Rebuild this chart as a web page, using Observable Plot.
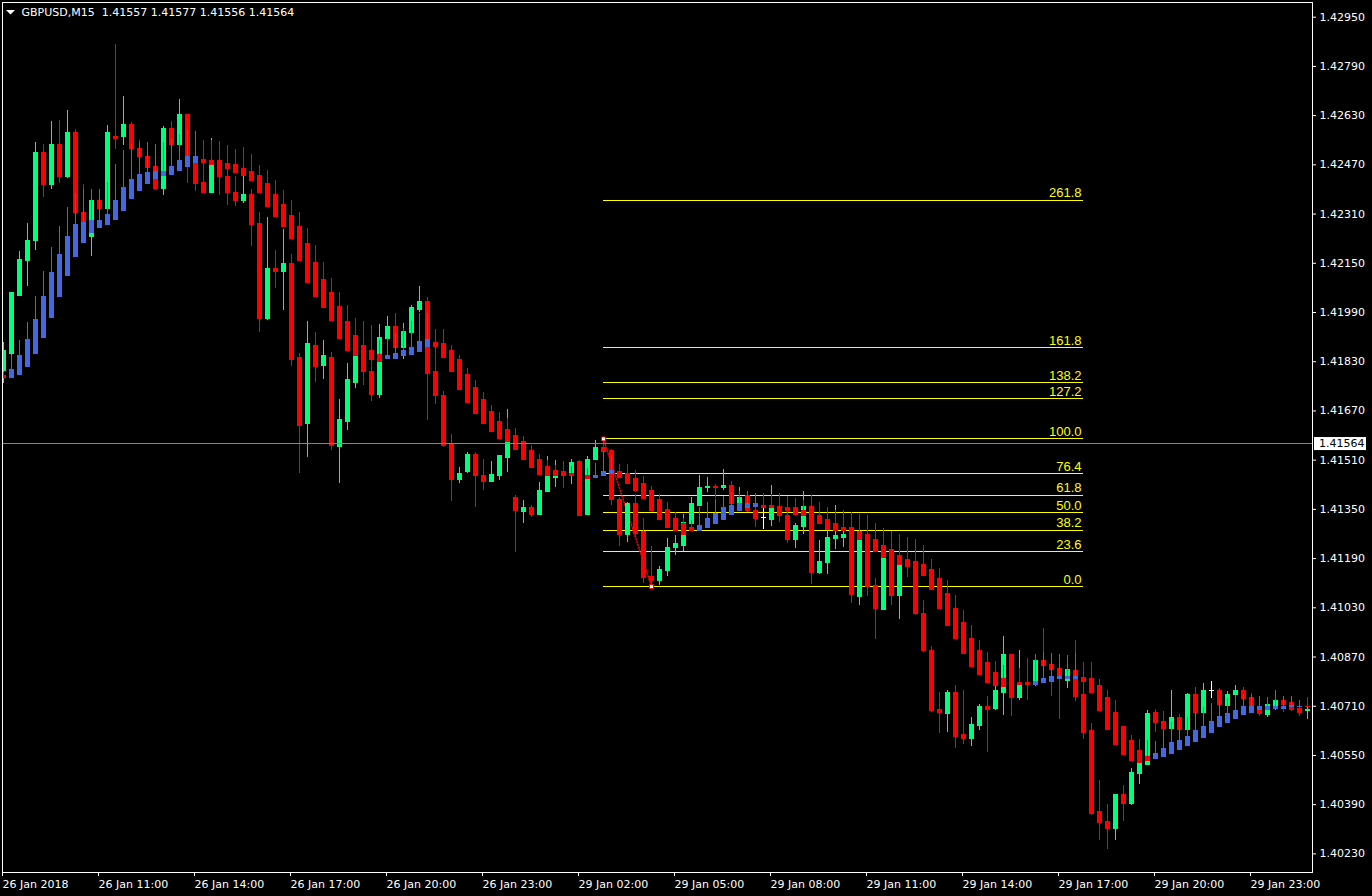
<!DOCTYPE html>
<html><head><meta charset="utf-8">
<script src="https://cdn.jsdelivr.net/npm/d3@7"></script>
<script src="https://cdn.jsdelivr.net/npm/@observablehq/plot@0.6"></script>
<style>
html,body{margin:0;padding:0;background:#000;overflow:hidden;}
#chart svg{display:block;}
</style></head><body><div id="chart"></div>
<script>
// ---- data (GBPUSD M15, 26 Jan 2018 08:00 .. 30 Jan 00:45, one entry per bar) ----
const open = [
1.41801,1.41856,1.42045,1.42159,1.42221,1.42507,1.42406,1.42533,1.42429,1.42575,
1.42315,1.42237,1.42351,1.42325,1.42562,1.42559,1.42601,1.42523,1.42497,1.42464,
1.42390,1.42588,1.42533,1.42633,1.42474,1.42412,1.42380,1.42481,1.42429,1.42380,
1.42351,1.42373,1.42279,1.41970,1.42133,1.42123,1.42149,1.41843,1.41626,1.41882,
1.41817,1.41843,1.41554,1.41635,1.41762,1.41882,1.41798,1.41723,1.41905,1.41944,
1.41876,1.41925,1.41999,1.42025,1.41795,1.41720,1.41561,1.41447,1.41470,1.41528,
1.41457,1.41440,1.41460,1.41518,1.41388,1.41343,1.41356,1.41333,1.41408,1.41453,
1.41473,1.41463,1.41505,1.41333,1.41512,1.41551,1.41541,1.41379,1.41268,1.41369,
1.41275,1.41131,1.41118,1.41151,1.41223,1.41232,1.41304,1.41362,1.41418,1.41424,
1.41418,1.41427,1.41369,1.41395,1.41346,1.41323,1.41317,1.41359,1.41330,1.41252,
1.41294,1.41359,1.41144,1.41177,1.41255,1.41258,1.41288,1.41066,1.41265,1.41102,
1.41024,1.41213,1.41070,1.41183,1.41180,1.41011,1.40891,1.40699,1.40686,1.40754,
1.40615,1.40605,1.40647,1.40709,1.40702,1.40754,1.40875,1.40738,1.40787,1.40780,
1.40858,1.40845,1.40832,1.40793,1.40826,1.40748,1.40628,1.40367,1.40335,1.40312,
1.40420,1.40393,1.40491,1.40520,1.40689,1.40660,1.40637,1.40673,1.40634,1.40748,
1.40689,1.40758,1.40761,1.40712,1.40745,1.40758,1.40738,1.40699,1.40683,1.40702,
1.40728,1.40719,1.40702,1.40693];
const high = [
1.41892,1.42055,1.42188,1.42279,1.42542,1.42536,1.42611,1.42614,1.42646,1.42585,
1.42406,1.42390,1.42386,1.42598,1.42861,1.42692,1.42607,1.42549,1.42516,1.42500,
1.42594,1.42611,1.42682,1.42633,1.42516,1.42536,1.42555,1.42546,1.42533,1.42432,
1.42526,1.42390,1.42315,1.42299,1.42191,1.42260,1.42178,1.41856,1.41960,1.41925,
1.41899,1.41860,1.41707,1.41824,1.41970,1.41960,1.41947,1.41951,1.41977,1.41986,
1.41954,1.42012,1.42074,1.42039,1.41934,1.41733,1.41593,1.41486,1.41535,1.41535,
1.41512,1.41505,1.41525,1.41674,1.41395,1.41379,1.41362,1.41437,1.41522,1.41509,
1.41505,1.41512,1.41509,1.41522,1.41574,1.41579,1.41544,1.41388,1.41372,1.41398,
1.41320,1.41229,1.41164,1.41255,1.41265,1.41333,1.41388,1.41460,1.41453,1.41431,
1.41479,1.41440,1.41421,1.41408,1.41392,1.41359,1.41427,1.41401,1.41353,1.41304,
1.41408,1.41395,1.41249,1.41284,1.41362,1.41297,1.41340,1.41252,1.41330,1.41125,
1.41209,1.41229,1.41200,1.41249,1.41252,1.41053,1.40904,1.40754,1.40761,1.40777,
1.40761,1.40673,1.40715,1.40741,1.40810,1.40936,1.40878,1.40891,1.40865,1.40878,
1.40962,1.40871,1.40878,1.40875,1.40923,1.40793,1.40654,1.40468,1.40390,1.40423,
1.40452,1.40507,1.40602,1.40696,1.40699,1.40693,1.40761,1.40683,1.40751,1.40771,
1.40784,1.40790,1.40767,1.40758,1.40777,1.40771,1.40751,1.40741,1.40738,1.40761,
1.40741,1.40741,1.40728,1.40738];
const low = [
1.41759,1.41850,1.42042,1.42074,1.42191,1.42364,1.42390,1.42409,1.42425,1.42305,
1.42273,1.42172,1.42315,1.42315,1.42520,1.42533,1.42510,1.42484,1.42435,1.42386,
1.42370,1.42523,1.42516,1.42409,1.42383,1.42377,1.42377,1.42370,1.42338,1.42334,
1.42344,1.42204,1.41925,1.41964,1.42068,1.41996,1.41814,1.41466,1.41518,1.41762,
1.41772,1.41541,1.41434,1.41606,1.41743,1.41752,1.41700,1.41710,1.41856,1.41866,
1.41837,1.41918,1.41990,1.41639,1.41691,1.41551,1.41375,1.41434,1.41466,1.41356,
1.41411,1.41437,1.41444,1.41470,1.41209,1.41304,1.41323,1.41330,1.41405,1.41421,
1.41418,1.41431,1.41327,1.41330,1.41509,1.41525,1.41362,1.41229,1.41242,1.41258,
1.41109,1.41099,1.41102,1.41131,1.41200,1.41213,1.41301,1.41359,1.41405,1.41385,
1.41411,1.41362,1.41362,1.41340,1.41291,1.41284,1.41294,1.41307,1.41239,1.41223,
1.41268,1.41105,1.41138,1.41138,1.41219,1.41226,1.41044,1.41037,1.41066,1.40927,
1.41021,1.41037,1.40992,1.41128,1.41005,1.40884,1.40689,1.40621,1.40624,1.40572,
1.40585,1.40579,1.40631,1.40559,1.40696,1.40680,1.40676,1.40728,1.40728,1.40774,
1.40793,1.40741,1.40667,1.40767,1.40725,1.40602,1.40354,1.40273,1.40244,1.40273,
1.40335,1.40387,1.40455,1.40517,1.40624,1.40631,1.40631,1.40628,1.40628,1.40683,
1.40683,1.40735,1.40709,1.40706,1.40728,1.40728,1.40702,1.40676,1.40673,1.40696,
1.40689,1.40693,1.40676,1.40667];
const close = [
1.41866,1.42052,1.42162,1.42224,1.42507,1.42403,1.42533,1.42429,1.42572,1.42312,
1.42282,1.42351,1.42325,1.42572,1.42555,1.42601,1.42520,1.42494,1.42461,1.42390,
1.42588,1.42533,1.42633,1.42490,1.42409,1.42380,1.42471,1.42432,1.42377,1.42354,
1.42373,1.42276,1.41970,1.42133,1.42123,1.42149,1.41837,1.41622,1.41886,1.41814,
1.41847,1.41557,1.41639,1.41769,1.41850,1.41795,1.41723,1.41908,1.41944,1.41876,
1.41928,1.42006,1.42025,1.41791,1.41717,1.41557,1.41447,1.41466,1.41528,1.41457,
1.41440,1.41463,1.41522,1.41570,1.41346,1.41356,1.41333,1.41411,1.41457,1.41476,
1.41457,1.41502,1.41330,1.41512,1.41551,1.41538,1.41379,1.41268,1.41366,1.41271,
1.41128,1.41118,1.41154,1.41226,1.41236,1.41307,1.41366,1.41421,1.41424,1.41421,
1.41427,1.41369,1.41388,1.41346,1.41320,1.41323,1.41353,1.41327,1.41252,1.41297,
1.41359,1.41144,1.41180,1.41258,1.41265,1.41268,1.41073,1.41249,1.41099,1.41027,
1.41193,1.41070,1.41170,1.41164,1.41011,1.40888,1.40696,1.40689,1.40754,1.40611,
1.40605,1.40650,1.40709,1.40699,1.40758,1.40875,1.40738,1.40787,1.40780,1.40858,
1.40842,1.40829,1.40797,1.40829,1.40741,1.40624,1.40361,1.40332,1.40312,1.40423,
1.40393,1.40494,1.40524,1.40686,1.40657,1.40637,1.40673,1.40634,1.40748,1.40689,
1.40761,1.40758,1.40715,1.40748,1.40758,1.40735,1.40709,1.40686,1.40715,1.40728,
1.40715,1.40699,1.40689,1.40699];
// smoothed Heiken Ashi overlay
const haOpen = [
1.41785,1.41778,1.41788,1.41814,1.41856,1.41908,1.41973,1.42042,1.42110,1.42169,
1.42217,1.42250,1.42266,1.42276,1.42292,1.42321,1.42360,1.42386,1.42409,1.42425,
1.42435,1.42438,1.42451,1.42464,1.42477,1.42487,1.42484,1.42474,1.42474,1.42468,
1.42458,1.42448,1.42435,1.42409,1.42373,1.42338,1.42305,1.42269,1.42214,1.42152,
1.42097,1.42055,1.42009,1.41960,1.41915,1.41879,1.41866,1.41853,1.41840,1.41840,
1.41847,1.41853,1.41863,1.41879,1.41892,1.41886,1.41866,1.41834,1.41788,1.41743,
1.41704,1.41668,1.41635,1.41609,1.41590,1.41570,1.41541,1.41512,1.41489,1.41476,
1.41470,1.41466,1.41463,1.41460,1.41453,1.41457,1.41466,1.41470,1.41466,1.41450,
1.41431,1.41411,1.41382,1.41349,1.41320,1.41301,1.41288,1.41281,1.41288,1.41301,
1.41317,1.41333,1.41346,1.41353,1.41359,1.41362,1.41362,1.41359,1.41356,1.41353,
1.41346,1.41336,1.41330,1.41317,1.41304,1.41291,1.41288,1.41278,1.41268,1.41252,
1.41232,1.41219,1.41200,1.41187,1.41177,1.41170,1.41154,1.41125,1.41076,1.41027,
1.40979,1.40930,1.40888,1.40849,1.40819,1.40800,1.40790,1.40787,1.40787,1.40780,
1.40784,1.40790,1.40797,1.40800,1.40800,1.40803,1.40800,1.40777,1.40738,1.40689,
1.40641,1.40598,1.40566,1.40546,1.40540,1.40546,1.40556,1.40569,1.40582,1.40595,
1.40608,1.40624,1.40641,1.40657,1.40670,1.40680,1.40689,1.40699,1.40699,1.40702,
1.40702,1.40706,1.40706,1.40709];
const haClose = [
1.41778,1.41804,1.41847,1.41899,1.41967,1.42042,1.42117,1.42178,1.42234,1.42273,
1.42282,1.42289,1.42289,1.42308,1.42354,1.42396,1.42422,1.42438,1.42445,1.42448,
1.42448,1.42464,1.42484,1.42497,1.42494,1.42477,1.42471,1.42458,1.42458,1.42445,
1.42435,1.42419,1.42380,1.42334,1.42299,1.42269,1.42230,1.42159,1.42087,1.42042,
1.42006,1.41964,1.41905,1.41866,1.41850,1.41840,1.41837,1.41830,1.41847,1.41856,
1.41866,1.41876,1.41895,1.41899,1.41879,1.41843,1.41795,1.41739,1.41697,1.41661,
1.41626,1.41600,1.41580,1.41570,1.41544,1.41512,1.41483,1.41463,1.41457,1.41457,
1.41457,1.41460,1.41450,1.41450,1.41460,1.41473,1.41476,1.41453,1.41431,1.41411,
1.41385,1.41346,1.41314,1.41288,1.41281,1.41268,1.41281,1.41297,1.41320,1.41336,
1.41353,1.41362,1.41366,1.41369,1.41366,1.41356,1.41353,1.41346,1.41346,1.41333,
1.41330,1.41314,1.41301,1.41284,1.41281,1.41281,1.41268,1.41249,1.41232,1.41213,
1.41193,1.41183,1.41170,1.41170,1.41151,1.41135,1.41089,1.41027,1.40972,1.40927,
1.40881,1.40839,1.40810,1.40787,1.40777,1.40774,1.40767,1.40780,1.40780,1.40790,
1.40800,1.40806,1.40806,1.40806,1.40806,1.40790,1.40754,1.40696,1.40634,1.40585,
1.40553,1.40533,1.40524,1.40533,1.40556,1.40572,1.40589,1.40598,1.40611,1.40628,
1.40644,1.40660,1.40676,1.40686,1.40696,1.40706,1.40709,1.40706,1.40706,1.40709,
1.40709,1.40712,1.40709,1.40706];
const haHigh = [
1.41795,1.41850,1.41899,1.41957,1.42042,1.42123,1.42201,1.42269,1.42331,1.42377,
1.42390,1.42390,1.42390,1.42412,1.42471,1.42516,1.42536,1.42542,1.42542,1.42536,
1.42542,1.42552,1.42568,1.42581,1.42578,1.42549,1.42549,1.42539,1.42533,1.42520,
1.42526,1.42503,1.42468,1.42451,1.42419,1.42386,1.42354,1.42315,1.42263,1.42208,
1.42152,1.42100,1.42055,1.42012,1.41970,1.41938,1.41915,1.41899,1.41905,1.41921,
1.41938,1.41960,1.41986,1.41986,1.41934,1.41934,1.41882,1.41850,1.41808,1.41769,
1.41730,1.41687,1.41665,1.41645,1.41613,1.41587,1.41557,1.41528,1.41509,1.41492,
1.41489,1.41489,1.41486,1.41483,1.41499,1.41538,1.41525,1.41496,1.41496,1.41476,
1.41457,1.41424,1.41398,1.41372,1.41340,1.41320,1.41314,1.41356,1.41372,1.41382,
1.41392,1.41405,1.41408,1.41408,1.41401,1.41401,1.41398,1.41395,1.41392,1.41385,
1.41379,1.41372,1.41372,1.41356,1.41346,1.41346,1.41340,1.41333,1.41320,1.41304,
1.41288,1.41278,1.41268,1.41258,1.41252,1.41232,1.41187,1.41157,1.41118,1.41070,
1.41021,1.40972,1.40923,1.40884,1.40855,1.40842,1.40832,1.40832,1.40832,1.40878,
1.40884,1.40881,1.40878,1.40875,1.40881,1.40852,1.40852,1.40797,1.40761,1.40728,
1.40644,1.40615,1.40602,1.40598,1.40595,1.40631,1.40657,1.40663,1.40673,1.40689,
1.40706,1.40719,1.40728,1.40735,1.40745,1.40748,1.40745,1.40741,1.40738,1.40761,
1.40741,1.40741,1.40728,1.40738];

const priceTicks = [1.42950,1.42790,1.42630,1.42470,1.42310,1.42150,1.41990,1.41830,1.41670,
  1.41510,1.41350,1.41190,1.41030,1.40870,1.40710,1.40550,1.40390,1.40230];
const timeTickBars = [0,12,24,36,48,60,72,84,96,108,120,132,144,156];
const timeTickLabels = ["26 Jan 2018","26 Jan 11:00","26 Jan 14:00","26 Jan 17:00","26 Jan 20:00",
  "26 Jan 23:00","29 Jan 02:00","29 Jan 05:00","29 Jan 08:00","29 Jan 11:00","29 Jan 14:00",
  "29 Jan 17:00","29 Jan 20:00","29 Jan 23:00"];
const fibLevels = [0, 23.6, 38.2, 50, 61.8, 76.4, 100, 127.2, 138.2, 161.8, 261.8];
const fibHighPrice = 1.41579, fibHighBar = 75;
const fibLowPrice = 1.41099, fibLowBar = 81;
const fibEndBar = 135;
const symbolTitle = "GBPUSD,M15";
const lastBar = [1.41557, 1.41577, 1.41556, 1.41564]; // O H L C shown in header
const bidPrice = 1.41564;

// ---- build ----
const n = open.length;
const bars = d3.range(n).map(i => ({i, o: open[i], h: high[i], l: low[i], c: close[i],
  ho: haOpen[i], hc: haClose[i], hh: haHigh[i]}));
const fibData = fibLevels.map(l => ({level: l, price: fibLowPrice + (fibHighPrice - fibLowPrice) * l / 100}));
const fibAnchors = [{i: fibHighBar, p: fibHighPrice}, {i: fibLowBar, p: fibLowPrice}];

const GREEN = "#00FF7F", RED = "#FF0000", BLUE = "#4169E1", WHITE = "#FFFFFF", YELLOW = "#FFFF00";
const FONT = "'DejaVu Sans', Verdana, sans-serif";
const candleColor = d => d.c > d.o ? GREEN : d.c < d.o ? RED : WHITE;
const haColor = d => d.hc >= d.ho ? BLUE : RED;
const crisp = {shapeRendering: "crispEdges"};

const plot = Plot.plot({
  width: 1372, height: 896,
  marginLeft: 2, marginTop: 2, marginRight: 60, marginBottom: 24,
  style: {background: "#000", color: "#fff", fontFamily: FONT, fontSize: "11px"},
  x: {type: "linear", domain: [0, n - 1], range: [3, 3 + 8 * (n - 1)], label: null},
  y: {type: "linear", domain: [1.42950, 1.40230], range: [16.7, 853.4], label: null},
  marks: [
    // fibonacci retracement
    Plot.ruleY(fibData, {y: "price", x1: fibHighBar, x2: fibEndBar, stroke: YELLOW, ...crisp}),
    Plot.text(fibData, {y: "price", x: fibEndBar, text: d => d.level.toFixed(1), textAnchor: "end",
      lineAnchor: "bottom", dx: -2, dy: -3, fill: YELLOW, fontFamily: "'Liberation Sans', Arial, sans-serif", fontSize: 13}),
    Plot.line(fibAnchors, {x: "i", y: "p", stroke: RED, strokeDasharray: "1,2"}),
    // candles
    Plot.ruleX(bars, {x: "i", y1: "h", y2: "l", stroke: candleColor, clip: true, ...crisp}),
    Plot.ruleX(bars, {x: "i", y1: d => Math.max(d.o, d.c), y2: d => Math.min(d.o, d.c),
      stroke: candleColor, strokeWidth: 5, insetTop: -0.5, insetBottom: -0.5, clip: true, ...crisp}),
    // heiken ashi overlay
    Plot.ruleX(bars, {x: "i", y1: "hh", y2: "ho", stroke: haColor, clip: true, ...crisp}),
    Plot.ruleX(bars, {x: "i", y1: d => Math.max(d.ho, d.hc), y2: d => Math.min(d.ho, d.hc),
      stroke: haColor, strokeWidth: 5, insetTop: -0.5, insetBottom: -0.5, clip: true, ...crisp}),
    Plot.dot(fibAnchors, {x: "i", y: "p", symbol: "square", r: 2.2, fill: WHITE, stroke: RED, strokeWidth: 1}),
    // bid line
    Plot.ruleY([bidPrice], {stroke: "#778899", ...crisp}),
    Plot.frame({stroke: "#fff", ...crisp}),
    Plot.axisY({anchor: "right", ticks: priceTicks, tickFormat: d => d.toFixed(5), tickSize: 3,
      tickPadding: 4, stroke: "#fff", fill: "#fff", label: null}),
    Plot.axisX({anchor: "bottom", ticks: timeTickBars, tickFormat: d => timeTickLabels[timeTickBars.indexOf(d)],
      tickSize: 4, tickPadding: 4, textAnchor: "start", dx: -1, stroke: "#fff", fill: "#fff", label: null}),
    // header
    Plot.text([symbolTitle + "\u00a0\u00a0" + lastBar.map(v => v.toFixed(5)).join(" ")],
      {frameAnchor: "top-left", dx: 19, dy: 10, textAnchor: "start", lineAnchor: "middle", fill: "#fff"})
  ]
});

document.getElementById("chart").appendChild(plot);

// header drop-down triangle and bid price tag
const svg = d3.select(plot);
svg.append("path").attr("d", "M6,10L15,10L10.5,14.5Z").attr("fill", "#fff");
const ty = plot.scale("y").apply(bidPrice) + 0.5;
const tag = svg.append("g");
tag.append("rect").attr("x", 1314).attr("y", ty - 6.5).attr("width", 52).attr("height", 13).attr("fill", "#fff");
tag.append("text").attr("x", 1319).attr("y", ty).attr("dy", "0.32em").attr("fill", "#000")
  .attr("text-anchor", "start")
  .attr("font-family", FONT).attr("font-size", 11).text(bidPrice.toFixed(5));
</script>
</body></html>
